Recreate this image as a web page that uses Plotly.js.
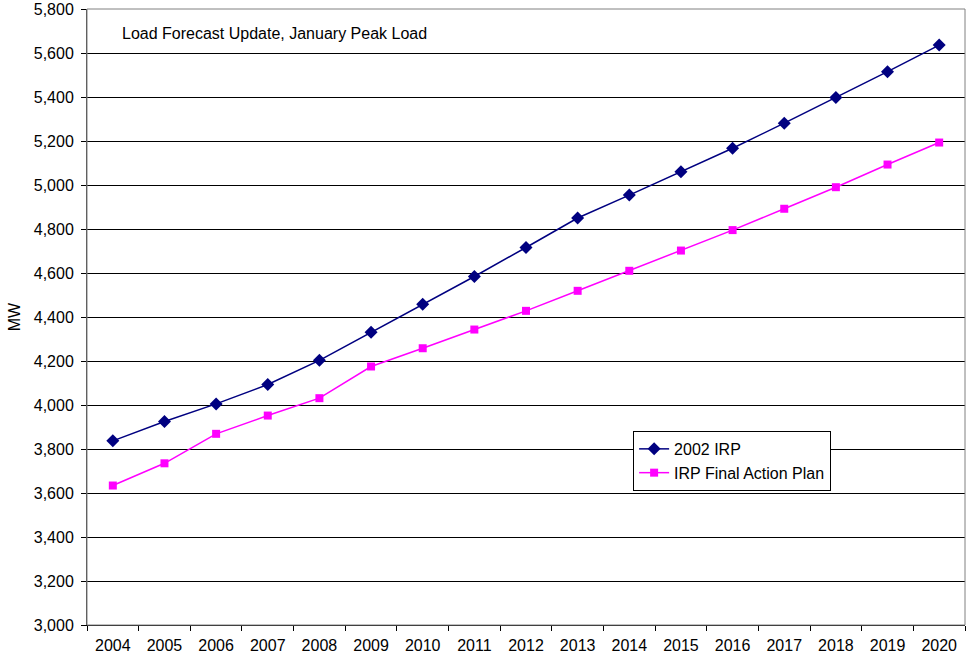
<!DOCTYPE html>
<html>
<head>
<meta charset="utf-8">
<script src="https://cdn.plot.ly/plotly-3.0.1.min.js"></script>
<style>
  html, body { margin: 0; padding: 0; background: #ffffff; }
  #chart { width: 967px; height: 659px; }
</style>
</head>
<body>
<div id="chart"></div>
<script>
// Forecast years (category axis)
const years = ["2004", "2005", "2006", "2007", "2008", "2009", "2010", "2011", "2012",
               "2013", "2014", "2015", "2016", "2017", "2018", "2019", "2020"];

// January peak load forecasts, MW
const irp2002 = [3837, 3925, 4005, 4093, 4203, 4331, 4458, 4584, 4716,
                 4850, 4954, 5060, 5167, 5281, 5398, 5515, 5636];
const finalActionPlan = [3634, 3735, 3869, 3952, 4031, 4175, 4258, 4343, 4428,
                         4519, 4610, 4702, 4795, 4892, 4990, 5093, 5193];

const seriesNames = ["2002 IRP", "IRP Final Action Plan"];
const chartNote = "Load Forecast Update, January Peak Load";
const yTitle = "MW";

const FONT = "Liberation Sans, Arial, sans-serif";
const FS = 16;

const traces = [
  {
    x: years, y: irp2002, name: seriesNames[0],
    type: "scatter", mode: "lines+markers",
    line: { color: "#000080", width: 1.5 },
    marker: { symbol: "diamond", size: 10, color: "#000080" }
  },
  {
    x: years, y: finalActionPlan, name: seriesNames[1],
    type: "scatter", mode: "lines+markers",
    line: { color: "#FF00FF", width: 1.5 },
    marker: { symbol: "square", size: 8, color: "#FF00FF" }
  }
];

const layout = {
  width: 967, height: 659,
  margin: { l: 87, r: 2, t: 9, b: 34, pad: 0 },
  paper_bgcolor: "#ffffff", plot_bgcolor: "#ffffff",
  font: { family: FONT, size: FS, color: "#000000" },
  showlegend: true,
  legend: {
    x: 0.622, y: 0.315, xanchor: "left", yanchor: "top",
    bgcolor: "#ffffff", bordercolor: "#000000", borderwidth: 1,
    font: { family: FONT, size: FS, color: "#000000" },
    tracegroupgap: 0
  },
  xaxis: {
    type: "category", range: [-0.5, 16.5],
    showgrid: false, zeroline: false,
    showline: true, linecolor: "#000000", linewidth: 1,
    ticks: "outside", ticklen: 5, tickcolor: "#000000", tickson: "boundaries",
    ticklabelstandoff: 6,
    tickfont: { family: FONT, size: FS, color: "#000000" }
  },
  yaxis: {
    range: [3000, 5800], dtick: 200, tick0: 3000, tickformat: ",",
    showgrid: true, gridcolor: "#000000", gridwidth: 1, zeroline: false,
    showline: true, linecolor: "#404040", linewidth: 1,
    ticks: "outside", ticklen: 5, tickcolor: "#000000",
    ticklabelstandoff: 4,
    tickfont: { family: FONT, size: FS, color: "#000000" },
    title: { text: yTitle, standoff: 9, font: { family: FONT, size: FS, color: "#000000" } }
  },
  shapes: [
    {
      type: "rect", xref: "paper", yref: "paper", x0: 0, x1: 1, y0: 0, y1: 1,
      line: { color: "#808080", width: 1 }, fillcolor: "rgba(0,0,0,0)", layer: "above"
    }
  ],
  annotations: [
    {
      text: chartNote, xref: "paper", yref: "paper",
      x: 0.0375, y: 0.96, xanchor: "left", yanchor: "middle",
      showarrow: false, font: { family: FONT, size: FS, color: "#000000" }
    }
  ]
};

Plotly.newPlot("chart", traces, layout, { displayModeBar: false, staticPlot: true });
</script>
</body>
</html>
